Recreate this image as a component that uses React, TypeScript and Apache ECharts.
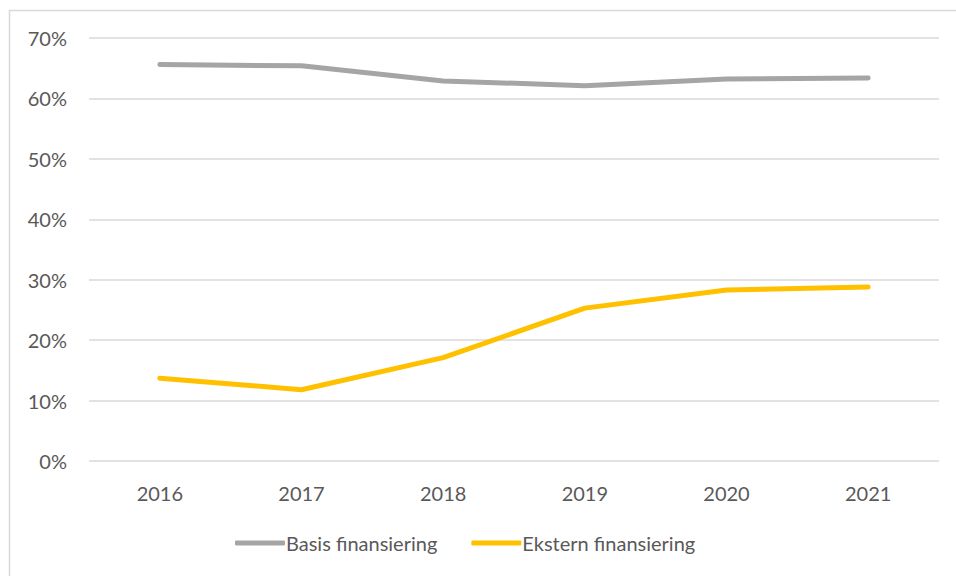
import React, { useEffect, useRef } from "react";
import * as echarts from "echarts";

const years = ["2016", "2017", "2018", "2019", "2020", "2021"];
const basisFinansiering = [65.6, 65.4, 62.9, 62.1, 63.2, 63.4];
const eksternFinansiering = [13.7, 11.8, 17.1, 25.3, 28.3, 28.8];
const seriesNames = ["Basis finansiering", "Ekstern finansiering"];

export default function App() {
  const ref = useRef<HTMLDivElement>(null);
  useEffect(() => {
    const chart = echarts.init(ref.current!, null, { renderer: "svg" });
    const font = "Lato, 'Open Sans', sans-serif";
    chart.setOption({
      animation: false,
      backgroundColor: "#ffffff",
      textStyle: { fontFamily: font },
      graphic: [
        {
          type: "rect",
          shape: { x: 9.5, y: 10.5, width: 1000, height: 700 },
          style: { fill: "none", stroke: "#D9D9D9", lineWidth: 1.5 },
          silent: true,
          z: -1,
        },
      ],
      grid: { left: 89, right: 17, top: 38, bottom: 115 },
      legend: {
        bottom: 18,
        left: 230,
        itemWidth: 50,
        itemHeight: 5,
        itemGap: 34,
        icon: "roundRect",
        textStyle: { color: "#595959", fontSize: 20, fontFamily: font, padding: [0, 0, 0, -4] },
        data: seriesNames,
      },
      xAxis: {
        type: "category",
        data: years,
        boundaryGap: true,
        axisLine: { show: false },
        axisTick: { show: false },
        axisLabel: { color: "#595959", fontSize: 20, margin: 22, fontFamily: font },
      },
      yAxis: {
        type: "value",
        min: 0,
        max: 70,
        interval: 10,
        axisLine: { show: false },
        axisTick: { show: false },
        splitLine: { lineStyle: { color: "#D9D9D9", width: 1.5 } },
        axisLabel: { color: "#595959", fontSize: 20, margin: 22, formatter: "{value}%", fontFamily: font },
      },
      series: [
        {
          name: seriesNames[0],
          type: "line",
          data: basisFinansiering,
          symbol: "none",
          lineStyle: { color: "#A5A5A5", width: 5, cap: "round", join: "round" },
          itemStyle: { color: "#A5A5A5" },
        },
        {
          name: seriesNames[1],
          type: "line",
          data: eksternFinansiering,
          symbol: "none",
          lineStyle: { color: "#FFC000", width: 5, cap: "round", join: "round" },
          itemStyle: { color: "#FFC000" },
        },
      ],
    });
    return () => chart.dispose();
  }, []);
  return (
    <div
      ref={ref}
      style={{ position: "absolute", left: 0, top: 0, width: 956, height: 576 }}
    />
  );
}
